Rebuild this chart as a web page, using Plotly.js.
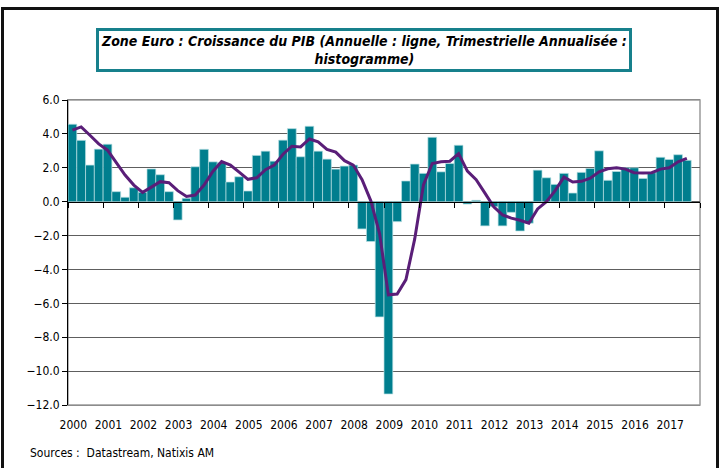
<!DOCTYPE html>
<html>
<head>
<meta charset="utf-8">
<script src="https://cdn.plot.ly/plotly-3.0.1.min.js"></script>
<style>
  html, body { margin: 0; padding: 0; background: #fff; }
  #wrap { position: relative; width: 722px; height: 468px; overflow: hidden; }
  #frame { position: absolute; left: 1px; top: 7px; width: 718px; height: 480px; border: 3px solid #111; box-sizing: border-box; pointer-events: none; }
  #chart { position: absolute; left: 0; top: 0; width: 722px; height: 468px; }
</style>
</head>
<body>
<div id="wrap">
  <div id="chart"></div>
  <div id="frame"></div>
</div>
<script>
// Data
const startYear = 2000;
const yearLabels = ['2000','2001','2002','2003','2004','2005','2006','2007','2008',
                    '2009','2010','2011','2012','2013','2014','2015','2016','2017'];
// Quarterly annualised growth (histogram), 2000Q1 .. 2017Q3
const quarterlyAnnualised = [
  4.57, 3.62, 2.16, 3.10,
  3.39, 0.59, 0.26, 0.82,
  0.55, 1.93, 1.59, 0.59,
  -1.08, 0.20, 2.06, 3.09,
  2.35, 2.30, 1.16, 1.47,
  0.63, 2.73, 2.98, 2.39,
  3.63, 4.31, 2.65, 4.45,
  2.98, 2.51, 1.92, 2.10,
  2.16, -1.61, -2.35, -6.80,
  -11.35, -1.18, 1.22, 2.22,
  1.67, 3.80, 1.76, 2.25,
  3.33, -0.14, 0.08, -1.43,
  -0.30, -1.43, -0.63, -1.73,
  -1.27, 1.86, 1.41, 1.02,
  1.67, 0.51, 1.73, 1.96,
  3.00, 1.26, 1.78, 2.00,
  2.00, 1.37, 1.71, 2.62,
  2.49, 2.77, 2.44
];
// Annual growth (line), 2000Q1 .. 2017Q3
const annualGrowth = [
  4.22, 4.41, 3.92, 3.41,
  3.04, 2.31, 1.57, 0.98,
  0.55, 0.86, 1.18, 1.12,
  0.65, 0.31, 0.39, 0.98,
  1.78, 2.37, 2.16, 1.74,
  1.32, 1.41, 1.89, 2.16,
  2.80, 3.27, 3.23, 3.70,
  3.53, 3.09, 2.92, 2.42,
  2.16, 1.30, 0.05, -1.90,
  -5.50, -5.45, -4.60, -2.20,
  1.00, 2.25, 2.35, 2.39,
  2.84, 1.80, 1.30, 0.50,
  -0.30, -0.78, -0.97, -1.10,
  -1.27, -0.43, 0.00, 0.65,
  1.45, 1.16, 1.20, 1.39,
  1.76, 1.94, 2.00, 1.92,
  1.71, 1.69, 1.71, 1.92,
  2.00, 2.35, 2.55
];
const yTicks = [6, 4, 2, 0, -2, -4, -6, -8, -10, -12];
const titleText = 'Zone Euro : Croissance du PIB (Annuelle : ligne, Trimestrielle Annualisée :<br>histogramme)';
const sourceText = 'Sources :  Datastream, Natixis AM';

// Quarter positions on a decimal-year axis
const xQ = quarterlyAnnualised.map((_, i) => startYear + (i + 0.5) / 4);
const yearTicks = yearLabels.map(y => +y);
const allYearTicks = yearTicks.concat([startYear + yearLabels.length]);

const FONT = '"DejaVu Sans Condensed", "Liberation Sans Narrow", "DejaVu Sans", sans-serif';

const traces = [
  {
    type: 'bar', x: xQ, y: quarterlyAnnualised, width: 0.25,
    marker: { color: '#007E8E', line: { color: '#b7dfe3', width: 0.7 } },
    xaxis: 'x', yaxis: 'y', hoverinfo: 'x+y'
  },
  {
    type: 'scatter', mode: 'lines', x: xQ, y: annualGrowth,
    line: { color: '#5A1E78', width: 3 },
    xaxis: 'x', yaxis: 'y'
  },
  // invisible helper so the zero-line axis is drawn
  { type: 'scatter', mode: 'none', x: [startYear], y: [0], xaxis: 'x2', yaxis: 'y', hoverinfo: 'skip' }
];

const layout = {
  width: 722, height: 468,
  margin: { l: 68, r: 22, t: 100, b: 63 },
  paper_bgcolor: 'rgba(0,0,0,0)', plot_bgcolor: '#fff',
  showlegend: false,
  bargap: 0,
  font: { family: FONT, size: 12, color: '#000' },
  xaxis: {
    range: [startYear, startYear + yearLabels.length],
    tickmode: 'array',
    tickvals: yearTicks.map(v => v + 0.15),
    ticktext: yearLabels,
    ticks: 'outside', ticklen: 9, tickcolor: 'rgba(0,0,0,0)',
    showgrid: false, zeroline: false,
    showline: true, linecolor: '#8c8c8c', linewidth: 1, mirror: true,
    tickfont: { family: FONT, size: 12, color: '#000' }
  },
  xaxis2: {
    overlaying: 'x', anchor: 'free', position: 12 / 18, side: 'bottom',
    matches: 'x',
    range: [startYear, startYear + yearLabels.length],
    tickmode: 'array', tickvals: allYearTicks,
    ticks: 'outside', ticklen: 5, tickcolor: '#000', tickwidth: 1,
    showticklabels: false, showgrid: false, zeroline: false,
    showline: true, linecolor: '#000', linewidth: 1
  },
  yaxis: {
    range: [-12, 6],
    tickmode: 'array', tickvals: yTicks, tickformat: '.1f',
    ticks: 'outside', ticklen: 5, tickcolor: '#000',
    showgrid: true, gridcolor: '#5e5e5e', gridwidth: 1,
    zeroline: false,
    showline: true, linecolor: '#000', linewidth: 1,
    tickfont: { family: FONT, size: 12, color: '#000' }
  },
  shapes: [
    { type: 'rect', xref: 'paper', yref: 'paper', x0: 0, x1: 1, y0: 0, y1: 1,
      line: { color: '#9a9a9a', width: 1.5 }, fillcolor: 'rgba(0,0,0,0)', layer: 'below' }
  ],
  annotations: [
    {
      xref: 'paper', yref: 'paper', x: 0.468, y: 1.164,
      xanchor: 'center', yanchor: 'middle', showarrow: false,
      text: '<b><i>' + titleText + '</i></b>',
      font: { family: FONT, size: 14, color: '#000' },
      align: 'center',
      bordercolor: '#17808C', borderwidth: 3, borderpad: 2, bgcolor: '#fff'
    },
    {
      xref: 'paper', yref: 'paper', x: -0.063, y: -0.157,
      xanchor: 'left', yanchor: 'middle', showarrow: false,
      text: sourceText,
      font: { family: FONT, size: 12, color: '#000' }
    }
  ]
};

Plotly.newPlot('chart', traces, layout, { displayModeBar: false, staticPlot: true });
</script>
</body>
</html>
